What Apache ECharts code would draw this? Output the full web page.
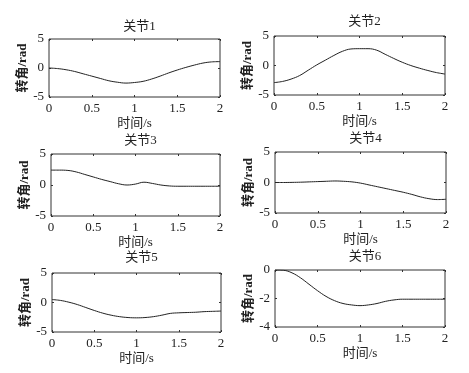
<!DOCTYPE html>
<html><head><meta charset="utf-8">
<script src="https://cdn.jsdelivr.net/npm/echarts@6/dist/echarts.min.js"></script>
<style>html,body{margin:0;padding:0;background:#fff}#c{width:469px;height:373px}</style>
</head><body><div id="c"></div>
<script>
const times = [0,0.1,0.2,0.3,0.4,0.5,0.6,0.7,0.8,0.9,1.0,1.1,1.2,1.3,1.4,1.5,1.6,1.7,1.8,1.9,2.0];
const joint1 = [0,-0.1,-0.3,-0.6,-1.0,-1.4,-1.8,-2.2,-2.45,-2.6,-2.5,-2.3,-1.9,-1.4,-0.85,-0.35,0.1,0.5,0.85,1.05,1.1];
const joint2 = [-2.9,-2.7,-2.3,-1.7,-0.8,0.1,0.9,1.7,2.4,2.8,2.85,2.85,2.6,1.9,1.2,0.55,0.0,-0.45,-0.85,-1.2,-1.45];
const joint3 = [2.4,2.4,2.35,2.1,1.7,1.3,0.9,0.55,0.2,0.0,0.15,0.45,0.25,0.0,-0.15,-0.2,-0.2,-0.2,-0.2,-0.2,-0.2];
const joint4 = [0,0,0.02,0.05,0.1,0.15,0.2,0.25,0.2,0.1,-0.1,-0.4,-0.7,-1.0,-1.3,-1.6,-1.95,-2.35,-2.65,-2.8,-2.75];
const joint5 = [0.5,0.35,0.05,-0.35,-0.85,-1.35,-1.8,-2.15,-2.4,-2.55,-2.6,-2.55,-2.4,-2.15,-1.85,-1.75,-1.7,-1.65,-1.55,-1.5,-1.45];
const joint6 = [0,-0.02,-0.2,-0.55,-1.0,-1.45,-1.85,-2.15,-2.35,-2.45,-2.5,-2.45,-2.35,-2.2,-2.1,-2.05,-2.05,-2.05,-2.05,-2.05,-2.05];
const titles = ['关节1','关节2','关节3','关节4','关节5','关节6'];
const yRanges = [[-5,5,5],[-5,5,5],[-5,5,5],[-5,5,5],[-5,5,5],[-4,0,2]];
const xName = '时间/s';
const yName = '转角/rad';
const seriesData = [joint1,joint2,joint3,joint4,joint5,joint6];

const boxes = [
  {l:49,r:220,t:39,b:97},
  {l:274,r:445,t:36,b:95},
  {l:51,r:220,t:154,b:216},
  {l:275,r:446,t:152,b:213},
  {l:52,r:221,t:273,b:332},
  {l:275,r:445,t:270,b:327}
];
const titleY = [15,10,129,127,246,245];
const serif = '"Liberation Serif","Noto Sans CJK SC",serif';
const txt = '#222';

const grid=[], xAxis=[], yAxis=[], series=[], title=[];
boxes.forEach((b,i)=>{
  grid.push({left:b.l,top:b.t,width:b.r-b.l,height:b.b-b.t,show:true,borderColor:'#333',borderWidth:1,backgroundColor:'transparent'});
  const tick = {show:true,inside:true,length:2,lineStyle:{color:'#333',width:1}};
  const noLine = {show:false,onZero:false};
  xAxis.push({type:'value',gridIndex:i,min:0,max:2,interval:0.5,position:'bottom',
    axisLine:noLine,axisTick:tick,splitLine:{show:false},
    axisLabel:{color:txt,fontFamily:serif,fontSize:13,margin:5,formatter:v=>String(v)},
    name:xName,nameLocation:'middle',nameGap:20,nameTextStyle:{color:txt,fontFamily:serif,fontSize:13}});
  xAxis.push({type:'value',gridIndex:i,min:0,max:2,interval:0.5,position:'top',
    axisLine:noLine,axisTick:tick,splitLine:{show:false},axisLabel:{show:false}});
  const yr = yRanges[i];
  yAxis.push({type:'value',gridIndex:i,min:yr[0],max:yr[1],interval:yr[2],position:'left',
    axisLine:noLine,axisTick:tick,splitLine:{show:false},
    axisLabel:{color:txt,fontFamily:serif,fontSize:13,margin:5},
    name:yName,nameLocation:'middle',nameGap:20,nameTextStyle:{color:txt,fontFamily:serif,fontSize:13,fontWeight:'bold'}});
  yAxis.push({type:'value',gridIndex:i,min:yr[0],max:yr[1],interval:yr[2],position:'right',
    axisLine:noLine,axisTick:tick,splitLine:{show:false},axisLabel:{show:false}});
  series.push({type:'line',xAxisIndex:2*i,yAxisIndex:2*i,smooth:0.4,symbol:'none',
    lineStyle:{color:'#222',width:1},data:times.map((t,k)=>[t,seriesData[i][k]])});
  title.push({text:titles[i],left:(b.l+b.r)/2,top:titleY[i],textAlign:'center',
    textStyle:{color:txt,fontFamily:serif,fontSize:13,fontWeight:'normal'}});
});
const chart = echarts.init(document.getElementById('c'),null,{renderer:'canvas'});
chart.setOption({animation:false,backgroundColor:'#fff',title,grid,xAxis,yAxis,series});
</script></body></html>
